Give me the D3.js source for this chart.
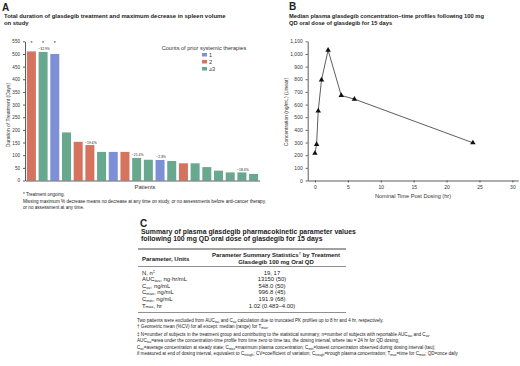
<!DOCTYPE html>
<html lang="en">
<head>
    <meta charset="UTF-8">
    <title>Glasdegib figure</title>
    <script src="https://d3js.org/d3.v7.min.js"></script>
    <style>
        body { margin: 0; background: #fff; }
        svg { font-family: 'Liberation Sans', Arial, sans-serif; }
        .axis path, .axis line { stroke: #333; stroke-width: 0.8px; }
        .axis text { fill: #333; }
    </style>
</head>
<body>
<div id="chart"></div>
<script>
    var width = 520;
    var height = 366;

    // ---- panel A data ----
    var patients = d3.range(1, 21);
    var durations = [510, 508, 500, 190, 153, 140, 113, 113, 113, 89, 82, 81, 77, 68, 68, 53, 39, 32, 32, 26];
    var priorTherapies = ['2', '≥3', '1', '≥3', '2', '2', '≥3', '1', '2', '≥3', '≥3', '1', '≥3', '2', '≥3', '≥3', '≥3', '≥3', '≥3', '≥3'];
    var ongoing = [1, 1, 1, 0, 0, 0, 0, 0, 0, 0, 0, 0, 0, 0, 0, 0, 0, 0, 0, 0];
    var spleenDecrease = ['', '−32.9%', '', '', '', '−19.6%', '', '', '', '−21.4%', '', '−2.3%', '', '', '', '', '', '', '−18.4%', ''];
    var legendGroups = ['1', '2', '≥3'];
    var durationTicks = d3.range(0, 551, 50);

    // ---- panel B data ----
    var timeHr = [0, 0.25, 0.5, 1, 2, 4, 6, 24];
    var concentration = [215, 285, 550, 795, 1030, 672, 643, 298];
    var timeTicks = [0, 5, 10, 15, 20, 25, 30];
    var concTicks = d3.range(0, 1101, 100);

    // ---- panel C table ----
    var paramNames = ['N, n^{‡}', 'AUC_{tau}, ng·hr/mL', 'C_{av}, ng/mL', 'C_{max}, ng/mL', 'C_{min}, ng/mL', 'T_{max}, hr'];
    var paramValues = ['19, 17', '13150 (50)', '548.0 (50)', '996.8 (45)', '191.9 (68)', '1.02 (0.483–4.00)'];

    var svg = d3.select('#chart').append('svg')
        .attr('width', width)
        .attr('height', height);

    // writes text with _{sub} and ^{sup} pieces as tspans
    function richText(sel, str) {
        var parts = str.split(/([_^]\{[^}]*\})/);
        var shift = 0;
        parts.forEach(function(p) {
            if (!p) return;
            var m = p.match(/^([_^])\{([^}]*)\}$/);
            if (m) {
                var d = m[1] === '_' ? 0.9 : -1.4;
                sel.append('tspan').attr('dy', d - shift).style('font-size', '0.7em').text(m[2]);
                shift = d;
            } else {
                sel.append('tspan').attr('dy', -shift).text(p);
                shift = 0;
            }
        });
    }

    function addLines(lines, x, y0, step, size, weight, anchor) {
        lines.forEach(function(t, i) {
            var el = svg.append('text')
                .attr('x', x)
                .attr('y', y0 + i * step)
                .attr('text-anchor', anchor || 'start')
                .style('font-size', size + 'px')
                .style('font-weight', weight || 'normal')
                .attr('fill', '#222');
            richText(el, t);
        });
    }

    // ================= Panel A =================
    var colorScale = d3.scaleOrdinal()
        .domain(legendGroups)
        .range(['#7d8fd6', '#d6735e', '#68a88f']);

    var xA = d3.scaleBand()
        .domain(patients)
        .range([25.5, 259.5])
        .paddingInner(0.23)
        .paddingOuter(0.12);

    var yA = d3.scaleLinear()
        .domain([0, 550])
        .range([180.5, 41.3]);

    svg.append('text').attr('x', 2).attr('y', 11)
        .style('font-size', '10px').style('font-weight', 'bold').attr('fill', '#222').text('A');
    addLines(['Total duration of glasdegib treatment and maximum decrease in spleen volume', 'on study'],
        4, 18, 7, 5.9, 'bold');

    svg.selectAll('.barA')
        .data(patients)
        .enter().append('rect')
        .attr('class', 'barA')
        .attr('x', d => xA(d))
        .attr('width', xA.bandwidth())
        .attr('y', (d, i) => yA(durations[i]))
        .attr('height', (d, i) => yA(0) - yA(durations[i]))
        .attr('fill', (d, i) => colorScale(priorTherapies[i]));

    svg.append('g')
        .attr('class', 'axis')
        .attr('transform', 'translate(25,0)')
        .call(d3.axisLeft(yA).tickValues(durationTicks).tickSize(2).tickSizeOuter(0))
        .selectAll('text').style('font-size', '4.6px');

    svg.append('g')
        .attr('class', 'axis')
        .attr('transform', 'translate(0,' + yA(0) + ')')
        .call(d3.axisBottom(xA).tickSize(0).tickFormat(''));

    // asterisks for ongoing treatment
    svg.selectAll('.star')
        .data(patients.filter((d, i) => ongoing[i]))
        .enter().append('text')
        .attr('x', d => xA(d) + xA.bandwidth() / 2)
        .attr('y', 45)
        .attr('text-anchor', 'middle')
        .style('font-size', '5px')
        .attr('fill', '#222')
        .text('*');

    // spleen volume decrease labels
    svg.selectAll('.spleen')
        .data(patients.filter((d, i) => spleenDecrease[i]))
        .enter().append('text')
        .attr('x', d => xA(d) + xA.bandwidth() / 2 + 1)
        .attr('y', d => yA(durations[d - 1]) - 1.5)
        .attr('text-anchor', 'middle')
        .style('font-size', '3.4px')
        .attr('fill', '#222')
        .text(d => spleenDecrease[d - 1]);

    svg.append('text')
        .attr('transform', 'translate(10,115) rotate(-90)')
        .attr('text-anchor', 'middle')
        .style('font-size', '5px')
        .attr('fill', '#333')
        .text('Duration of Treatment (Days)');

    svg.append('text')
        .attr('x', 145).attr('y', 189)
        .attr('text-anchor', 'middle')
        .style('font-size', '5.8px')
        .attr('fill', '#333')
        .text('Patients');

    // legend
    svg.append('text')
        .attr('x', 204).attr('y', 50)
        .attr('text-anchor', 'middle')
        .style('font-size', '5.6px')
        .attr('fill', '#333')
        .text('Counts of prior systemic therapies');

    var legend = svg.selectAll('.legend')
        .data(legendGroups)
        .enter().append('g')
        .attr('transform', (d, i) => 'translate(202,' + (53 + i * 7) + ')');
    legend.append('rect')
        .attr('width', 5).attr('height', 3.5)
        .attr('fill', d => colorScale(d));
    legend.append('text')
        .attr('x', 7).attr('y', 3.6)
        .style('font-size', '5.6px')
        .attr('fill', '#333')
        .text(d => d);

    addLines(['* Treatment ongoing.'], 23, 195.5, 6, 4.5);
    addLines(['Missing maximum % decrease means no decrease at any time on study, or no assessments before anti-cancer therapy,',
        'or no assessment at any time.'], 23, 202.5, 6.5, 4.6);

    // ================= Panel B =================
    var xB = d3.scaleLinear()
        .domain([-1.1, 30.9])
        .range([307.7, 518.3]);

    var yB = d3.scaleLinear()
        .domain([0, 1100])
        .range([180.5, 41.3]);

    svg.append('text').attr('x', 289).attr('y', 10)
        .style('font-size', '10px').style('font-weight', 'bold').attr('fill', '#222').text('B');
    addLines(['Median plasma glasdegib concentration–time profiles following 100 mg',
        'QD oral dose of glasdegib for 15 days'], 289, 17.5, 7.5, 5.75, 'bold');

    svg.append('g')
        .attr('class', 'axis')
        .attr('transform', 'translate(307.7,0)')
        .call(d3.axisLeft(yB).tickValues(concTicks).tickFormat(d3.format(',')).tickSize(2).tickSizeOuter(0))
        .selectAll('text').style('font-size', '5px');

    svg.append('g')
        .attr('class', 'axis')
        .attr('transform', 'translate(0,' + yB(0) + ')')
        .call(d3.axisBottom(xB).tickValues(timeTicks).tickSize(2).tickSizeOuter(0))
        .selectAll('text').style('font-size', '5px');

    var pkData = timeHr.map((t, i) => ({ t: t, c: concentration[i] }));

    svg.append('path')
        .datum(pkData)
        .attr('fill', 'none')
        .attr('stroke', '#333')
        .attr('stroke-width', 0.8)
        .attr('d', d3.line().x(d => xB(d.t)).y(d => yB(d.c)));

    svg.selectAll('.tri')
        .data(pkData)
        .enter().append('path')
        .attr('transform', d => 'translate(' + xB(d.t) + ',' + yB(d.c) + ')')
        .attr('d', d3.symbol().type(d3.symbolTriangle).size(13))
        .attr('fill', '#111');

    svg.append('text')
        .attr('transform', 'translate(288,112) rotate(-90)')
        .attr('text-anchor', 'middle')
        .style('font-size', '5px')
        .attr('fill', '#333')
        .text('Concentration (ng/mL) (Linear)');

    svg.append('text')
        .attr('x', 413).attr('y', 198)
        .attr('text-anchor', 'middle')
        .style('font-size', '5.6px')
        .attr('fill', '#333')
        .text('Nominal Time Post Dosing (hr)');

    // ================= Panel C =================
    svg.append('text').attr('x', 140).attr('y', 227)
        .style('font-size', '10px').style('font-weight', 'bold').attr('fill', '#222').text('C');
    addLines(['Summary of plasma glasdegib pharmacokinetic parameter values',
        'following 100 mg QD oral dose of glasdegib for 15 days'], 141, 234, 7.4, 6.9, 'bold');

    svg.append('line').attr('x1', 138).attr('x2', 346).attr('y1', 249).attr('y2', 249)
        .attr('stroke', '#444').attr('stroke-width', 1);
    addLines(['Parameter, Units'], 142, 261, 7, 6, 'bold');
    addLines(['Parameter Summary Statistics^{†} by Treatment', 'Glasdegib 100 mg Oral QD'], 276, 256.5, 7, 6, 'bold', 'middle');
    svg.append('line').attr('x1', 138).attr('x2', 346).attr('y1', 266.5).attr('y2', 266.5)
        .attr('stroke', '#444').attr('stroke-width', 0.6);

    var rowY = d3.scalePoint()
        .domain(d3.range(paramNames.length))
        .range([274.5, 307.5]);

    paramNames.forEach(function(p, i) {
        addLines([p], 142, rowY(i), 6, 5.9);
        addLines([paramValues[i]], 272, rowY(i), 6, 5.9, 'normal', 'middle');
    });

    svg.append('line').attr('x1', 138).attr('x2', 346).attr('y1', 312.5).attr('y2', 312.5)
        .attr('stroke', '#444').attr('stroke-width', 0.6);

    addLines([
        'Two patients were excluded from AUC_{tau} and C_{av} calculation due to truncated PK profiles up to 8 hr and 4 hr, respectively.',
        '† Geometric mean (%CV) for all except: median (range) for T_{max}.'
    ], 137, 322, 6.3, 4.6);
    addLines([
        '‡ N=number of subjects in the treatment group and contributing to the statistical summary; n=number of subjects with reportable AUC_{tau} and C_{av}.',
        'AUC_{tau}=area under the concentration-time profile from time zero to time tau, the dosing interval, where tau = 24 hr for QD dosing;',
        'C_{av}=average concentration at steady state; C_{max}=maximum plasma concentration; C_{min}=lowest concentration observed during dosing interval (tau);',
        'if measured at end of dosing interval, equivalent to C_{trough}; CV=coefficient of variation; C_{trough}=trough plasma concentration; T_{max}=time for C_{max}; QD=once daily'
    ], 137, 336, 6.3, 4.6);
</script>
</body>
</html>
